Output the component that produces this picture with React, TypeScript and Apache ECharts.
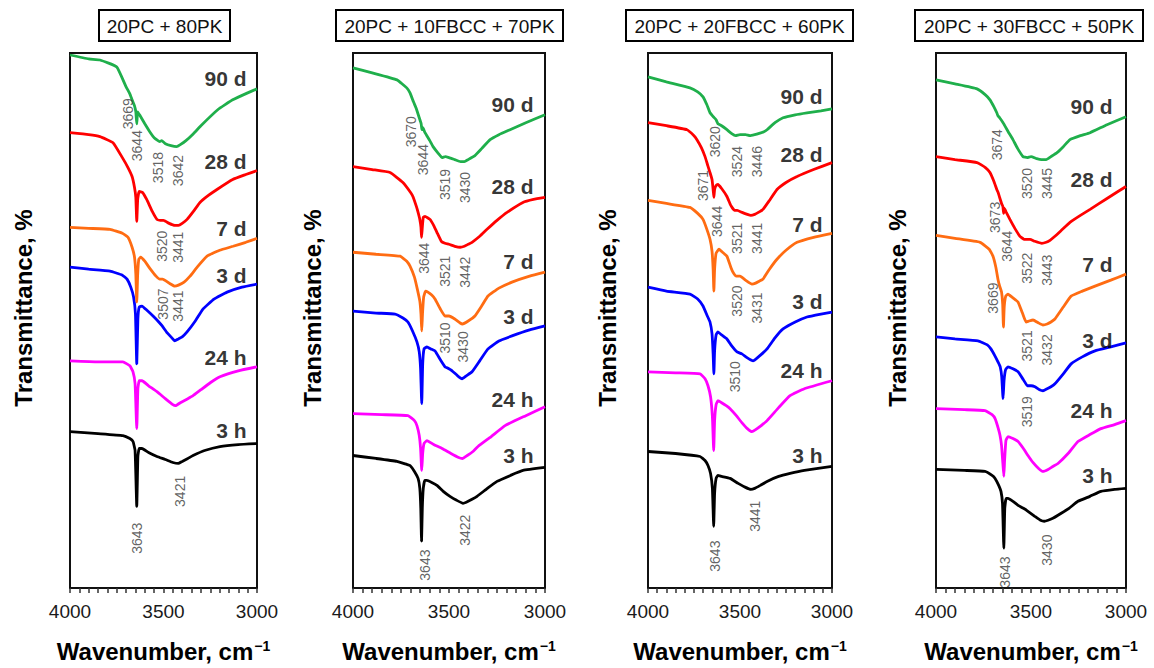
import React, { useEffect, useRef } from 'react';
import * as echarts from 'echarts';

// ---- Data: FTIR spectra in the O–H stretching region (offset transmittance, a.u.) ----
const AGES = ['3 h', '24 h', '3 d', '7 d', '28 d', '90 d'];
const MIXES = ['20PC + 80PK', '20PC + 10FBCC + 70PK', '20PC + 20FBCC + 60PK', '20PC + 30FBCC + 50PK'];

// 20PC + 80PK
const p1_3h = [[4000,157],[3850,155],[3717,153],[3680,150],[3663,147],[3652,138],[3643,82],[3637,132],[3630,140],[3615,140],[3580,136],[3535,132],[3490,129],[3450,126],[3421,125],[3400,127],[3370,130],[3342,133],[3280,138],[3198,142],[3100,144],[3000,145]];
const p1_24h = [[4000,228],[3850,227],[3717,227],[3680,223],[3663,217],[3652,205],[3643,160],[3637,200],[3630,208],[3615,208],[3580,203],[3535,197],[3490,190],[3450,184],[3435,183],[3410,186],[3370,190],[3342,193],[3300,199],[3250,206],[3198,212],[3100,218],[3000,222]];
const p1_3d = [[4000,322],[3900,320],[3786,318],[3720,314],[3695,310],[3675,302],[3660,292],[3650,275],[3643,225],[3637,270],[3630,282],[3615,283],[3590,279],[3556,273],[3530,268],[3507,263],[3480,256],[3450,250],[3440,248],[3420,250],[3400,252],[3374,257],[3330,268],[3289,280],[3230,290],[3160,297],[3080,302],[3000,305]];
const p1_7d = [[4000,362],[3900,361],[3786,360],[3720,356],[3690,352],[3668,342],[3655,332],[3648,315],[3643,287],[3638,315],[3632,330],[3622,332],[3600,328],[3570,320],[3540,313],[3520,310],[3505,310],[3470,306],[3440,303],[3420,304],[3390,307],[3358,313],[3320,322],[3267,333],[3200,339],[3128,343],[3060,347],[3000,351]];
const p1_28d = [[4000,457],[3900,455],[3840,453],[3770,447],[3720,432],[3690,422],[3668,413],[3655,402],[3648,392],[3643,368],[3638,390],[3630,398],[3612,397],[3590,390],[3560,378],[3535,370],[3518,369],[3500,369],[3470,366],[3440,364],[3420,364],[3400,366],[3374,370],[3340,378],[3305,387],[3260,394],[3214,400],[3130,410],[3060,415],[3000,419]];
const p1_90d = [[4000,535],[3900,531],[3840,530],[3750,523],[3700,503],[3680,496],[3668,490],[3655,484],[3648,478],[3643,466],[3638,478],[3625,474],[3600,466],[3570,457],[3550,452],[3520,448],[3510,449],[3490,446],[3460,444],[3430,443],[3410,445],[3380,449],[3340,456],[3300,464],[3210,480],[3130,490],[3050,497],[3000,501]];

// 20PC + 10FBCC + 70PK
const p2_3h = [[4000,133],[3880,130],[3771,127],[3720,124],[3703,123],[3680,117],[3661,110],[3652,100],[3647,80],[3643,47],[3639,80],[3634,100],[3626,108],[3615,108],[3590,106],[3563,103],[3530,97],[3495,92],[3460,88],[3427,85],[3410,86],[3380,89],[3354,92],[3300,100],[3250,107],[3180,113],[3115,118],[3000,121]];
const p2_24h = [[4000,175],[3850,174],[3714,173],[3680,168],[3667,163],[3655,153],[3648,140],[3642,118],[3637,135],[3630,145],[3615,148],[3580,144],[3536,140],[3490,135],[3450,131],[3430,130],[3405,133],[3375,137],[3349,142],[3280,152],[3208,163],[3100,173],[3000,182]];
const p2_3d = [[4000,278],[3880,276],[3781,275],[3740,271],[3714,267],[3690,258],[3667,247],[3655,237],[3648,220],[3642,185],[3637,225],[3630,240],[3615,242],[3595,240],[3573,238],[3545,229],[3521,222],[3510,221],[3484,218],[3455,213],[3432,210],[3410,213],[3380,217],[3340,228],[3297,240],[3240,248],[3172,253],[3080,259],[3000,263]];
const p2_7d = [[4000,337],[3880,335],[3755,333],[3720,328],[3703,323],[3680,312],[3665,300],[3652,288],[3646,275],[3642,258],[3638,275],[3632,292],[3622,298],[3610,297],[3590,294],[3573,290],[3545,280],[3521,273],[3500,273],[3470,270],[3442,266],[3430,265],[3400,268],[3365,273],[3330,283],[3297,293],[3240,301],[3172,307],[3080,313],[3000,317]];
const p2_28d = [[4000,423],[3900,420],[3807,417],[3740,407],[3700,397],[3688,393],[3670,383],[3661,377],[3652,370],[3646,362],[3643,352],[3639,362],[3634,372],[3625,373],[3599,370],[3580,364],[3563,357],[3540,348],[3521,346],[3500,345],[3470,343],[3442,342],[3420,343],[3400,345],[3380,347],[3340,353],[3302,360],[3250,369],[3198,377],[3115,387],[3060,390],[3000,392]];
const p2_90d = [[4000,522],[3900,517],[3771,510],[3720,502],[3703,497],[3685,488],[3672,482],[3665,478],[3655,472],[3645,466],[3641,460],[3636,462],[3625,457],[3600,449],[3583,443],[3555,436],[3536,432],[3519,433],[3500,432],[3470,430],[3440,428],[3420,428],[3400,430],[3365,434],[3330,441],[3286,450],[3240,455],[3182,460],[3100,467],[3000,475]];

// 20PC + 20FBCC + 60PK
const p3_3h = [[4000,137],[3850,135],[3717,132],[3690,128],[3674,123],[3660,115],[3650,100],[3643,62],[3638,95],[3630,110],[3620,113],[3600,112],[3554,110],[3510,105],[3470,101],[3441,99],[3420,100],[3390,103],[3353,107],[3290,112],[3228,115],[3150,118],[3000,122]];
const p3_24h = [[4000,217],[3850,216],[3717,215],[3690,210],[3674,203],[3660,192],[3650,172],[3643,138],[3638,168],[3630,184],[3620,188],[3600,186],[3575,183],[3554,180],[3520,173],[3490,166],[3460,160],[3435,157],[3415,159],[3385,163],[3353,168],[3290,181],[3228,193],[3150,200],[3000,208]];
const p3_3d = [[4000,302],[3900,298],[3772,295],[3730,290],[3701,283],[3680,274],[3663,267],[3652,255],[3646,235],[3642,215],[3638,238],[3630,254],[3620,257],[3600,254],[3571,250],[3545,243],[3516,237],[3490,235],[3460,231],[3429,228],[3400,232],[3375,236],[3353,240],[3310,251],[3266,260],[3200,267],[3136,272],[3060,275],[3000,277]];
const p3_7d = [[4000,389],[3900,386],[3772,382],[3730,376],[3701,370],[3680,360],[3663,350],[3652,338],[3646,320],[3642,298],[3638,320],[3630,336],[3614,340],[3595,337],[3571,333],[3550,322],[3538,317],[3520,313],[3500,313],[3470,309],[3435,305],[3415,306],[3395,308],[3375,310],[3340,320],[3299,330],[3250,339],[3190,347],[3100,352],[3000,356]];
const p3_28d = [[4000,467],[3900,464],[3788,460],[3750,454],[3734,450],[3710,442],[3690,433],[3675,424],[3663,417],[3652,410],[3646,400],[3642,392],[3638,400],[3630,404],[3620,405],[3600,401],[3571,393],[3550,384],[3530,379],[3515,379],[3489,377],[3460,375],[3441,374],[3420,375],[3400,377],[3375,380],[3340,389],[3299,400],[3250,407],[3190,413],[3100,420],[3000,427]];
const p3_90d = [[4000,513],[3900,508],[3772,502],[3730,498],[3701,493],[3680,485],[3663,477],[3645,473],[3630,470],[3620,466],[3600,464],[3571,460],[3545,456],[3524,454],[3500,455],[3470,455],[3446,454],[3420,455],[3400,456],[3370,458],[3353,460],[3310,467],[3266,472],[3200,475],[3136,477],[3060,479],[3000,481]];

// 20PC + 30FBCC + 50PK
const p4_3h = [[4000,119],[3850,118],[3742,117],[3705,113],[3689,110],[3670,103],[3658,97],[3650,85],[3643,40],[3638,80],[3631,90],[3621,90],[3595,87],[3568,83],[3540,80],[3516,77],[3480,72],[3450,68],[3430,67],[3410,68],[3385,70],[3358,73],[3300,80],[3253,87],[3190,92],[3132,97],[3060,99],[3000,100]];
const p4_24h = [[4000,180],[3850,179],[3742,178],[3705,174],[3689,170],[3672,160],[3663,153],[3655,143],[3648,125],[3643,112],[3639,128],[3632,148],[3621,152],[3595,150],[3568,147],[3540,140],[3516,133],[3490,126],[3460,120],[3437,117],[3410,119],[3385,122],[3358,125],[3300,136],[3253,147],[3190,154],[3132,160],[3060,164],[3000,168]];
const p4_3d = [[4000,252],[3900,250],[3779,248],[3730,244],[3711,240],[3690,233],[3674,227],[3662,222],[3654,212],[3647,190],[3642,208],[3634,219],[3621,222],[3595,220],[3568,217],[3540,209],[3519,203],[3500,203],[3479,202],[3455,199],[3437,198],[3415,200],[3395,202],[3374,205],[3330,215],[3289,225],[3230,232],[3163,238],[3080,242],[3000,246]];
const p4_7d = [[4000,354],[3900,351],[3768,347],[3720,340],[3700,333],[3685,322],[3674,310],[3665,303],[3655,297],[3649,285],[3645,262],[3641,282],[3633,293],[3621,295],[3600,292],[3580,289],[3568,287],[3545,276],[3526,267],[3510,268],[3489,269],[3460,266],[3437,264],[3415,265],[3395,267],[3374,270],[3330,282],[3289,293],[3230,298],[3163,303],[3080,309],[3000,315]];
const p4_28d = [[4000,433],[3900,430],[3784,427],[3740,422],[3716,417],[3695,408],[3680,400],[3673,397],[3665,392],[3655,386],[3648,383],[3644,376],[3640,381],[3630,377],[3611,370],[3585,361],[3558,353],[3535,350],[3522,350],[3505,350],[3480,348],[3443,346],[3420,347],[3400,349],[3374,353],[3340,359],[3295,367],[3240,374],[3189,380],[3100,391],[3000,403]];
const p4_90d = [[4000,510],[3900,506],[3784,501],[3740,495],[3716,490],[3695,483],[3680,477],[3674,474],[3665,472],[3647,467],[3620,458],[3595,450],[3570,441],[3542,433],[3520,432],[3500,433],[3470,431],[3445,430],[3420,430],[3395,433],[3363,437],[3330,443],[3295,450],[3240,454],[3189,457],[3100,465],[3000,473]];

// Band assignments written next to each spectrum: [wavenumber anchor, level anchor, band]
const peaks1 = [[3690,476,'3669'],[3642,444,'3644'],[3529,422,'3518'],[3422,419,'3642'],[3508,343,'3520'],[3422,342,'3441'],[3503,285,'3507'],[3422,283,'3441'],[3412,97,'3421'],[3642,50,'3643']];
const peaks2 = [[3698,458,'3670'],[3635,430,'3644'],[3521,405,'3519'],[3417,402,'3430'],[3630,331,'3644'],[3521,318,'3521'],[3417,317,'3442'],[3521,251,'3510'],[3427,242,'3430'],[3417,58,'3422'],[3625,23,'3643']];
const peaks3 = [[3636,448,'3620'],[3516,428,'3524'],[3408,428,'3446'],[3701,404,'3671'],[3625,368,'3644'],[3516,351,'3521'],[3408,351,'3441'],[3516,288,'3520'],[3408,281,'3431'],[3527,212,'3510'],[3418,72,'3441'],[3636,32,'3643']];
const peaks4 = [[3679,445,'3674'],[3521,406,'3520'],[3416,406,'3445'],[3689,372,'3673'],[3626,343,'3644'],[3521,321,'3522'],[3416,319,'3443'],[3700,291,'3669'],[3521,243,'3521'],[3416,239,'3432'],[3521,177,'3519'],[3416,38,'3430'],[3637,16,'3643']];

// Age tags at the right of each spectrum: wavenumber where the tag ends, then levels in AGES order
const ageTagEnd = [3053, 3057, 3049, 3068];
const ageTagLevels = [
  [158, 231, 314, 361, 428, 511],
  [133, 189, 273, 328, 403, 485],
  [133, 218, 288, 365, 435, 493],
  [113, 178, 248, 325, 410, 483],
];

// Wavenumber axis: range, labelled step and tick step
const X_MIN = 3000;
const X_MAX = 4000;
const X_LABEL_STEP = 500;
const X_TICK_STEP = 50;

// ---- Presentation ----
const COLORS = ['#000000', '#ff00ff', '#0000ff', '#ff6c12', '#ff0000', '#1faf4b'];
const FONT = '"Liberation Sans", Arial, Helvetica, sans-serif';
const PANELS = [
  { left: 70, width: 187, box: [99, 131], yTitleX: 23 },
  { left: 353, width: 192, box: [336, 227], yTitleX: 312 },
  { left: 648, width: 184, box: [626, 227], yTitleX: 607 },
  { left: 936, width: 190, box: [915, 228], yTitleX: 897 },
];
const GRID_TOP = 53;
const GRID_H = 537;

function buildOption() {
  const spectra = [
    [p1_3h, p1_24h, p1_3d, p1_7d, p1_28d, p1_90d],
    [p2_3h, p2_24h, p2_3d, p2_7d, p2_28d, p2_90d],
    [p3_3h, p3_24h, p3_3d, p3_7d, p3_28d, p3_90d],
    [p4_3h, p4_24h, p4_3d, p4_7d, p4_28d, p4_90d],
  ];
  const peaks = [peaks1, peaks2, peaks3, peaks4];

  const grid: any[] = [];
  const xAxis: any[] = [];
  const yAxis: any[] = [];
  const series: any[] = [];
  const graphic: any[] = [];

  PANELS.forEach((p, i) => {
    grid.push({
      left: p.left, top: GRID_TOP, width: p.width, height: GRID_H,
      show: true, borderColor: '#111', borderWidth: 2, backgroundColor: 'transparent',
    });
    xAxis.push({
      gridIndex: i, type: 'value', min: X_MIN, max: X_MAX, interval: X_TICK_STEP,
      inverse: true,
      axisLine: { show: true, onZero: false, lineStyle: { color: '#111', width: 2 } },
      axisTick: { show: true, inside: false, length: 5, lineStyle: { color: '#333', width: 1.5 } },
      splitLine: { show: false },
      axisLabel: {
        fontSize: 19, color: '#1a1a1a', margin: 14, fontFamily: FONT,
        showMinLabel: true, showMaxLabel: true, hideOverlap: false,
        formatter: (v: number) => (v % X_LABEL_STEP === 0 ? String(v) : ''),
      },
      name: 'Wavenumber, cm{sup|−1}',
      nameLocation: 'middle',
      nameGap: 51,
      nameTextStyle: {
        fontSize: 24, fontWeight: 'bold', color: '#000', fontFamily: FONT,
        rich: { sup: { fontSize: 14, fontWeight: 'bold', color: '#000', fontFamily: FONT, verticalAlign: 'top', padding: [0, 0, 10, 1] } },
      },
    });
    yAxis.push({
      gridIndex: i, type: 'value', min: 0, max: GRID_H,
      axisLine: { show: false }, axisTick: { show: false }, axisLabel: { show: false }, splitLine: { show: false },
    });

    spectra[i].forEach((data, j) => {
      series.push({
        type: 'line', name: `${MIXES[i]} ${AGES[j]}`, xAxisIndex: i, yAxisIndex: i,
        data, showSymbol: false, symbol: 'none', smooth: 0.12,
        lineStyle: { color: COLORS[j], width: 2.8 }, z: 2, silent: true,
      });
    });

    series.push({
      type: 'scatter', xAxisIndex: i, yAxisIndex: i, symbolSize: 1, silent: true, z: 3,
      itemStyle: { color: 'rgba(0,0,0,0)' },
      data: peaks[i].map((d) => ({ value: [d[0], d[1]], name: String(d[2]) })),
      label: {
        show: true, position: 'inside', rotate: 90, formatter: (q: any) => q.name,
        fontSize: 14, color: '#3a3a3a', fontFamily: FONT,
      },
    });

    series.push({
      type: 'scatter', xAxisIndex: i, yAxisIndex: i, symbolSize: 1, silent: true, z: 3,
      itemStyle: { color: 'rgba(0,0,0,0)' },
      data: AGES.map((a, j) => ({ value: [ageTagEnd[i], ageTagLevels[i][j]], name: a })),
      label: {
        show: true, position: 'left', distance: 0, formatter: (q: any) => q.name,
        fontSize: 21, fontWeight: 'bold', color: '#000', fontFamily: FONT,
      },
    });

    // Mix title in a framed box above the panel
    graphic.push({
      type: 'group',
      children: [
        { type: 'rect', shape: { x: p.box[0], y: 10, width: p.box[1], height: 31 }, style: { fill: '#fff', stroke: '#000', lineWidth: 2 } },
        {
          type: 'text', x: p.box[0] + p.box[1] / 2, y: 26,
          style: { text: MIXES[i], font: `19px ${FONT}`, fill: '#111', align: 'center', verticalAlign: 'middle' },
        },
      ],
    });
    // Vertical axis title
    graphic.push({
      type: 'text', x: p.yTitleX, y: 308, rotation: Math.PI / 2,
      style: { text: 'Transmittance, %', font: `bold 24px ${FONT}`, fill: '#000', align: 'center', verticalAlign: 'middle' },
    });
  });

  return { animation: false, backgroundColor: '#fff', grid, xAxis, yAxis, series, graphic };
}

export default function App() {
  const ref = useRef<HTMLDivElement>(null);
  useEffect(() => {
    const chart = echarts.init(ref.current!, null, { renderer: 'svg' });
    chart.setOption(buildOption() as any);
    return () => chart.dispose();
  }, []);
  return (
    <div
      ref={ref}
      style={{ position: 'fixed', left: 0, top: 0, width: 1154, height: 668, background: '#fff' }}
    />
  );
}
